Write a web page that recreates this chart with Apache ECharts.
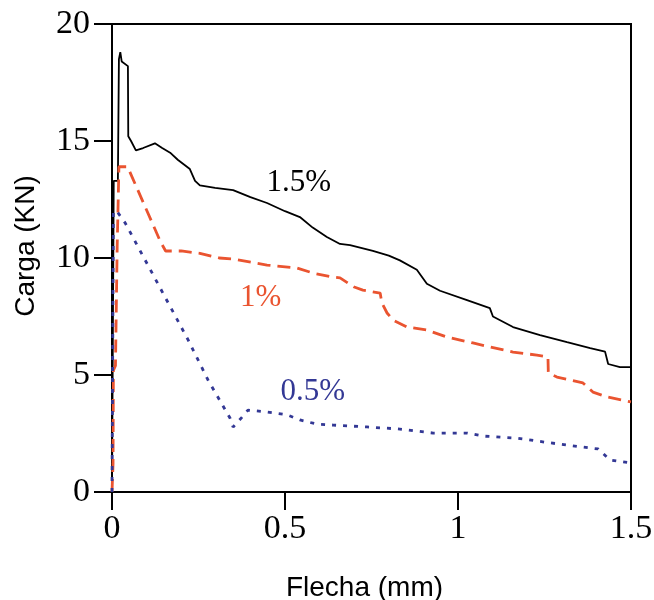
<!DOCTYPE html>
<html>
<head>
<meta charset="utf-8">
<script src="https://cdn.jsdelivr.net/npm/echarts@6/dist/echarts.min.js"></script>
<style>html,body{margin:0;padding:0;background:#fff;}#c{width:654px;height:600px;}</style>
</head>
<body>
<div id="c"></div>
<script>
// Flecha (mm) vs Carga (KN)
const xTicks = [0, 0.5, 1, 1.5];
const yTicks = [0, 5, 10, 15, 20];
const seriesNames = ['1.5%', '1%', '0.5%'];

const curve15 = [
  [0,0],[0.005,13.3],[0.017,13.3],[0.02,18.5],[0.024,18.8],[0.028,18.4],[0.046,18.2],
  [0.047,15.2],[0.055,15.0],[0.069,14.6],[0.09,14.7],[0.124,14.9],[0.145,14.7],
  [0.168,14.5],[0.19,14.2],[0.225,13.8],[0.24,13.3],[0.254,13.1],[0.298,13.0],
  [0.35,12.9],[0.4,12.6],[0.448,12.35],[0.5,12.0],[0.543,11.75],[0.58,11.3],
  [0.621,10.9],[0.659,10.6],[0.688,10.55],[0.754,10.3],[0.8,10.1],[0.832,9.9],
  [0.881,9.5],[0.91,8.9],[0.948,8.6],[1.026,8.2],[1.092,7.86],[1.101,7.5],
  [1.159,7.05],[1.237,6.7],[1.315,6.4],[1.382,6.15],[1.425,6.0],[1.434,5.47],
  [1.468,5.34],[1.5,5.34]
];
const curve10 = [
  [0,0],[0.003,1.2],[0.004,5.2],[0.01,5.4],[0.015,10.5],[0.02,13.9],[0.045,13.9],
  [0.14,10.7],[0.155,10.3],[0.2,10.3],[0.254,10.2],[0.31,10.0],[0.35,9.96],
  [0.448,9.7],[0.535,9.57],[0.58,9.36],[0.636,9.19],[0.659,9.15],[0.7,8.76],
  [0.725,8.63],[0.775,8.5],[0.78,8.08],[0.795,7.65],[0.812,7.35],[0.853,7.05],
  [0.91,6.92],[0.968,6.62],[1.043,6.37],[1.092,6.2],[1.159,5.98],[1.228,5.85],
  [1.26,5.77],[1.261,5.09],[1.286,4.91],[1.361,4.66],[1.39,4.27],[1.431,4.06],
  [1.5,3.85]
];
const curve05 = [
  [0,0],[0.002,6.0],[0.004,12.0],[0.014,12.0],[0.038,11.5],[0.22,6.5],[0.277,4.8],
  [0.341,3.16],[0.35,2.78],[0.376,3.2],[0.393,3.5],[0.448,3.42],[0.506,3.3],
  [0.543,3.08],[0.592,2.9],[0.639,2.86],[0.737,2.78],[0.832,2.69],[0.928,2.52],
  [1.026,2.52],[1.072,2.39],[1.17,2.3],[1.266,2.1],[1.361,1.92],[1.405,1.84],
  [1.439,1.37],[1.5,1.24]
];
const labelPos = [[0.54,13.2],[0.43,8.3],[0.58,4.3]];

const colors = ['#000000', '#ea5430', '#333895'];
const chart = echarts.init(document.getElementById('c'), null, {renderer:'canvas'});
const serif = 'Liberation Serif';
const sans = 'Liberation Sans';

function lineSeries(name, data, color, width, dash) {
  return {
    name: name, type: 'line', data: data, showSymbol: false, symbol: 'none',
    lineStyle: {color: color, width: width, type: dash, cap: 'butt'},
    animation: false, z: 3
  };
}

chart.setOption({
  animation: false,
  grid: {left: 112, right: 23, top: 24, bottom: 108, show: true, borderColor: '#000', borderWidth: 2,
    containLabel: false, outerBoundsMode: 'none'},
  xAxis: {
    type: 'value', min: 0, max: 1.5, interval: 0.5,
    name: 'Flecha (mm)', nameLocation: 'middle', nameGap: 82,
    nameTextStyle: {fontFamily: sans, fontSize: 28, color: '#000', padding: [0, 14, 0, 0]},
    axisLine: {show: true, onZero: false, lineStyle: {color: '#000', width: 2}},
    axisTick: {show: true, inside: false, length: 18, lineStyle: {color: '#000', width: 2}},
    axisLabel: {fontFamily: serif, fontSize: 34, color: '#000', margin: 20,
      formatter: v => xTicks.includes(v) ? String(v) : ''},
    splitLine: {show: false}
  },
  yAxis: {
    type: 'value', min: 0, max: 20, interval: 5,
    name: 'Carga (KN)', nameLocation: 'middle', nameGap: 72,
    nameTextStyle: {fontFamily: sans, fontSize: 28, color: '#000', padding: [0, 0, 0, 24]},
    axisLine: {show: true, onZero: false, lineStyle: {color: '#000', width: 2}},
    axisTick: {show: true, inside: false, length: 18, lineStyle: {color: '#000', width: 2}},
    axisLabel: {fontFamily: serif, fontSize: 34, color: '#000', margin: 22,
      formatter: v => yTicks.includes(v) ? String(v) : ''},
    splitLine: {show: false}
  },
  series: [
    lineSeries(seriesNames[0], curve15, colors[0], 1.8, 'solid'),
    lineSeries(seriesNames[1], curve10, colors[1], 2.8, [13, 7]),
    lineSeries(seriesNames[2], curve05, colors[2], 2.8, [4, 7]),
    {
      type: 'scatter', symbolSize: 1, silent: true, z: 4,
      itemStyle: {opacity: 0},
      data: labelPos.map((p, i) => ({
        value: p,
        label: {show: true, position: 'inside', formatter: seriesNames[i], opacity: 1,
          fontFamily: serif, fontSize: 31, color: colors[i]}
      }))
    }
  ]
});
</script>
</body>
</html>
